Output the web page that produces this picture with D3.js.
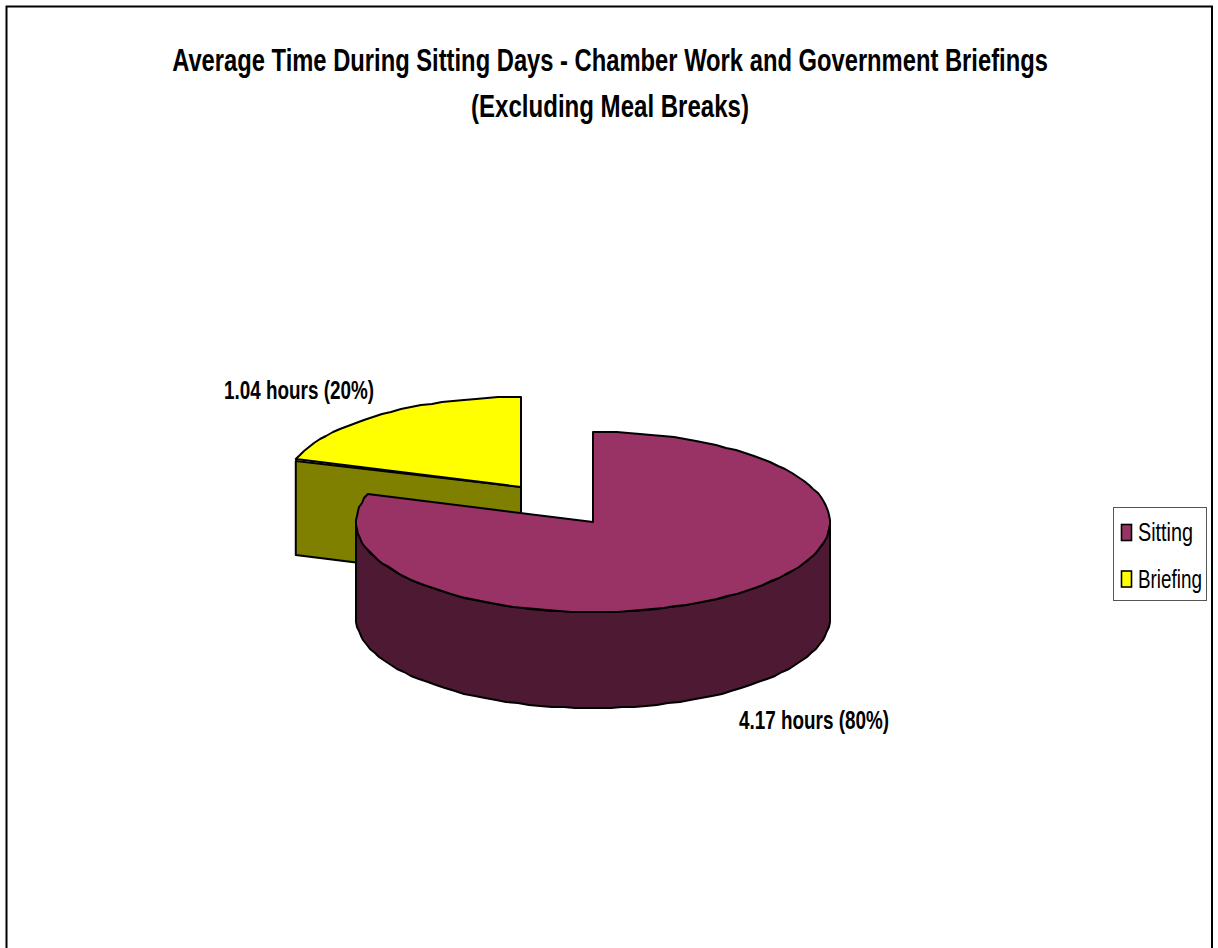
<!DOCTYPE html>
<html>
<head>
<meta charset="utf-8">
<script src="https://cdn.jsdelivr.net/npm/d3@7"></script>
<style>
  html, body { margin: 0; padding: 0; background: #fff; }
  svg { display: block; }
  text { font-family: "Liberation Sans", Arial, sans-serif; fill: #000; }
</style>
</head>
<body>
<svg class="canvas" width="1218" height="948"></svg>
<script>
const categories = ['Sitting', 'Briefing'];
const hours = [4.17, 1.04];
const sliceLabels = ['4.17 hours (80%)', '1.04 hours (20%)'];
const topColors = ['#993366', '#ffff00'];
const sideColors = ['#4d1933', '#808000'];
const titleLines = [
    'Average Time During Sitting Days - Chamber Work and Government Briefings',
    '(Excluding Meal Breaks)'
];

const svg = d3.select('.canvas');

// squeeze a text to the width it has in the original
const fitText = (sel, x, y, width) => {
    sel.each(function () {
        const sx = width / this.getComputedTextLength();
        d3.select(this).attr('transform', `translate(${x},${y}) scale(${sx},1)`);
    });
};

// outer frame, open at the bottom
svg.append('path')
    .attr('d', 'M6.5,948V6.5H1212V948')
    .attr('fill', 'none')
    .attr('stroke', '#000')
    .attr('stroke-width', 2);

// title
const titleWidths = [876, 278];
titleLines.forEach((t, i) => {
    svg.append('text')
        .attr('text-anchor', 'middle')
        .attr('font-size', 32)
        .attr('font-weight', 'bold')
        .text(t)
        .call(fitText, 610, 71 + i * 46, titleWidths[i]);
});

// pie geometry
const center = [593, 522];
const rx = 237;
const ry = 90;
const depth = 96;
const explode = [[0, 0], [-72, -35]];

const slices = d3.pie().sort(null)(hours);

// ellipse point for an angle measured clockwise from 12 o'clock
const rimPoint = (a, off) => [
    center[0] + off[0] + rx * Math.sin(a),
    center[1] + off[1] - ry * Math.cos(a)
];
// the original rim is slightly stepped, so snap to whole pixels
const rim = (start, end, off) => {
    const n = Math.ceil(Math.abs(end - start) / 0.05);
    return d3.range(n + 1).map((i) => {
        const p = rimPoint(start + (end - start) * i / n, off);
        return i === 0 || i === n ? p : [Math.round(p[0]), Math.round(p[1])];
    });
};
const line = d3.line();
const drop = (p) => [p[0], p[1] + depth];

const pieG = svg.append('g')
    .attr('stroke', '#000')
    .attr('stroke-width', 2)
    .attr('stroke-linejoin', 'round');

// briefing goes first since the sitting slice sits in front of it
[1, 0].forEach((i) => {
    const s = slices[i];
    const off = explode[i];
    const apex = [center[0] + off[0], center[1] + off[1]];
    if (i === 1) {
        // straight cut face seen from the front, top edge sits a bit under the rim
        const a = rimPoint(s.startAngle, off);
        const faceTop = [a[0], a[1] + 2];
        pieG.append('path')
            .attr('d', line([faceTop, apex, drop(apex), drop(a)]) + 'Z')
            .attr('fill', sideColors[i]);
    } else {
        // curved wall, front half of the rim only
        const front = rim(Math.PI / 2, 3 * Math.PI / 2, off);
        pieG.append('path')
            .attr('d', line(front.concat(front.map(drop).reverse())) + 'Z')
            .attr('fill', sideColors[i]);
    }
    pieG.append('path')
        .attr('d', line([apex].concat(rim(s.startAngle, s.endAngle, off))) + 'Z')
        .attr('fill', topColors[i]);
});

// slice labels
const labelPos = [[814, 729], [299, 399]];
sliceLabels.forEach((t, i) => {
    svg.append('text')
        .attr('text-anchor', 'middle')
        .attr('font-size', 26)
        .attr('font-weight', 'bold')
        .text(t)
        .call(fitText, labelPos[i][0], labelPos[i][1], 150);
});

// legend
const legend = svg.append('g');
legend.append('rect')
    .attr('x', 1113.5)
    .attr('y', 507.5)
    .attr('width', 93)
    .attr('height', 93)
    .attr('fill', '#fff')
    .attr('stroke', '#555')
    .attr('stroke-width', 1);

const legendY = d3.scalePoint().domain(categories).range([532.5, 579]);
const legendWidths = [55, 64];
categories.forEach((c, i) => {
    legend.append('rect')
        .attr('x', 1121.5)
        .attr('y', legendY(c) - 8)
        .attr('width', 10)
        .attr('height', 16)
        .attr('fill', topColors[i])
        .attr('stroke', '#000')
        .attr('stroke-width', 1.6);
    legend.append('text')
        .attr('font-size', 26)
        .text(c)
        .call(fitText, 1138, legendY(c) + 8.5, legendWidths[i]);
});
</script>
</body>
</html>
